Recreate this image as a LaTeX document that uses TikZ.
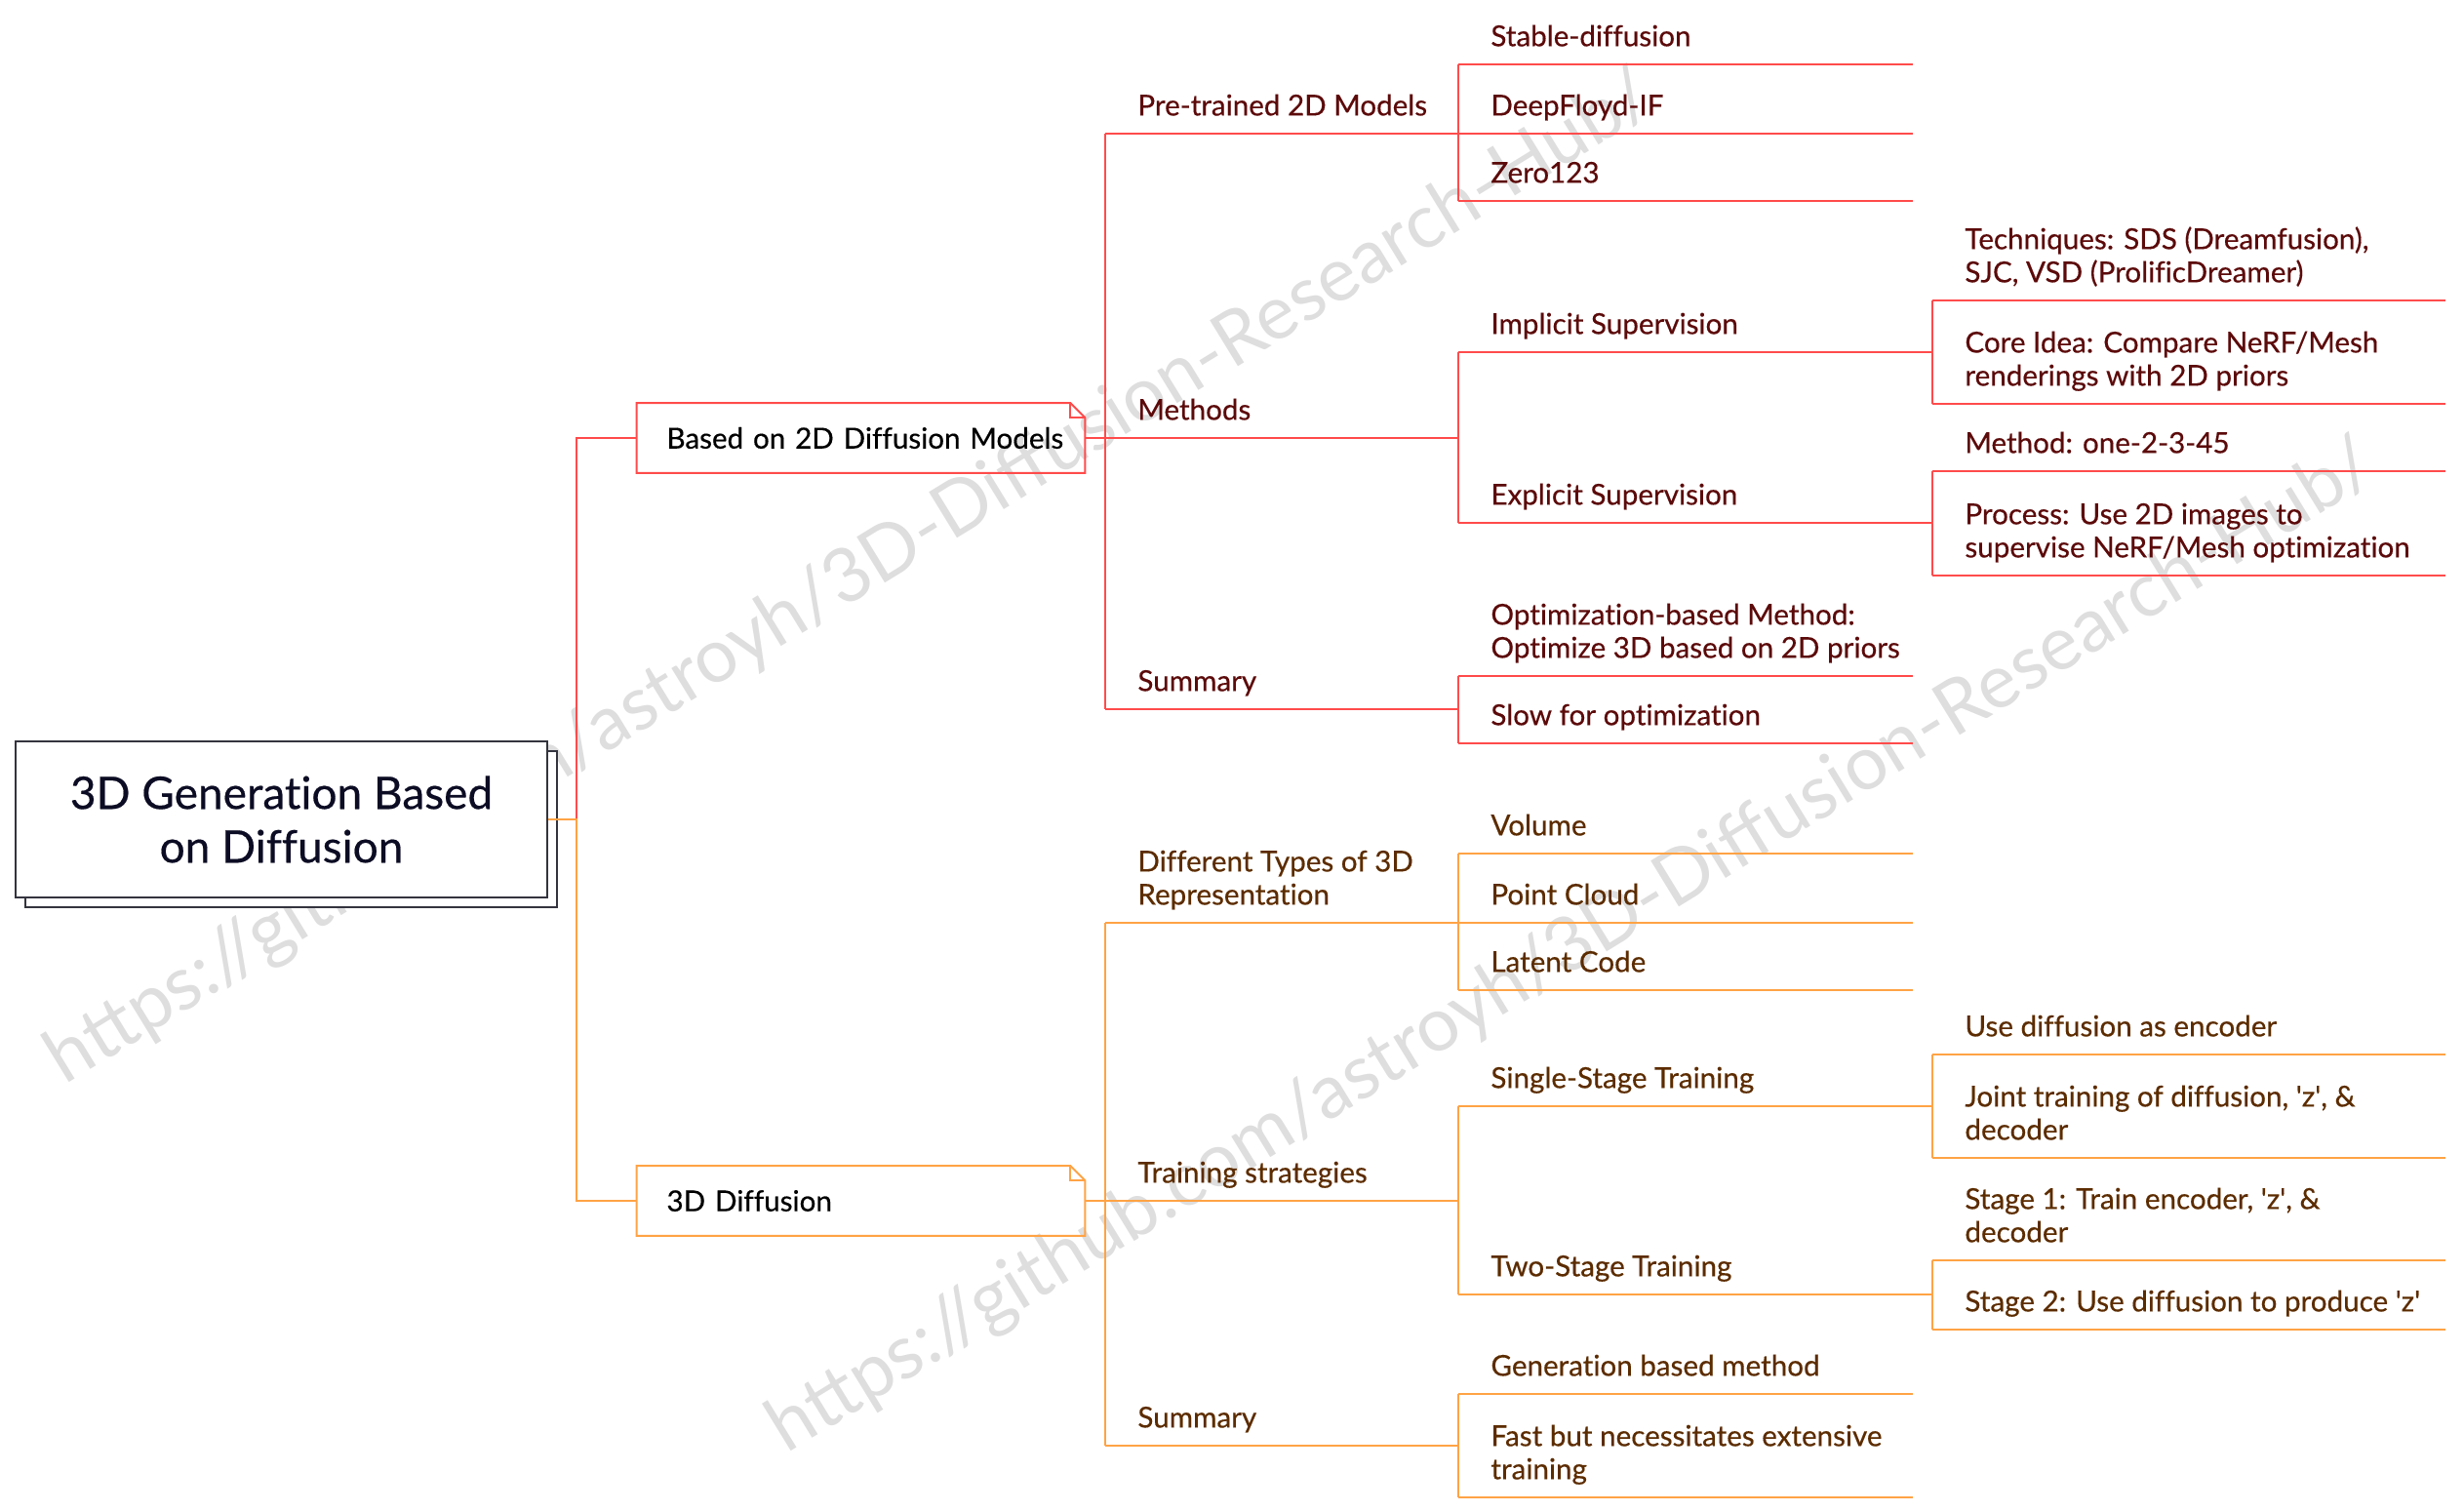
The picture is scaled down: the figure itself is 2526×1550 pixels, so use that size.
\documentclass[tikz,border=0pt]{standalone}
\usepackage{fontspec}
\setmainfont{Lato}[Ligatures={TeX,NoCommon},FakeBold=0.4]
\newfontfamily\wmfont{Lato}
\usetikzlibrary{shadows}

\definecolor{redline}{HTML}{FF4B4B}
\definecolor{oraline}{HTML}{FFA345}
\definecolor{redtext}{HTML}{5C0A0A}
\definecolor{oratext}{HTML}{5C2C00}
\definecolor{rootline}{HTML}{34343F}
\definecolor{roottext}{HTML}{0C0C24}

\newcommand{\tpfont}{\fontsize{14.8}{17}\selectfont}
\newcommand{\q}{\textquotesingle}
% box with a folded top right corner
\newcommand{\dogbox}[2]{%
  \draw[#2] (#1.south west) -- (#1.north west) -- ([xshift=-7.5pt]#1.north east)
    -- ([yshift=-7.5pt]#1.north east) -- (#1.south east) -- cycle;
  \draw[#2] ([xshift=-7.5pt]#1.north east) |- ([yshift=-7.5pt]#1.north east);}

\tikzset{
  tp/.style={anchor=south west, align=left, inner xsep=16.5pt, inner ysep=4pt,
    font=\tpfont, execute at end node=\strut},
  redt/.style={tp, text=redtext},
  orat/.style={tp, text=oratext},
  redl/.style={draw=redline, line width=1pt},
  oral/.style={draw=oraline, line width=1pt},
  mainbox/.style={minimum width=229.5pt, minimum height=35.5pt, text width=199pt,
    inner xsep=15.25pt, align=left, font=\tpfont, text=black},
  wmark/.style={rotate=31.5, text=black!13, font=\wmfont\fontsize{38.5}{42}\selectfont}
}

\begin{document}
\begin{tikzpicture}[x=0.5pt,y=-0.5pt]
      \useasboundingbox (0,0) rectangle (2526,1550);
      \pgfmathsetmacro{\ca}{1133}
      \pgfmathsetmacro{\cb}{1495}
      \pgfmathsetmacro{\cc}{1981}
      \coordinate (xa) at (\ca,0);
      \coordinate (xb) at (\cb,0);
      \coordinate (xc) at (\cc,0);
      \coordinate (eb) at (1961,0);
      \coordinate (ec) at (2507,0);

      % watermark
      \node[wmark] (wmA) at (872,594) {https://github.com/astroyh/3D-Diffusion-Research-Hub/};
      \node[wmark] (wmB) at (1612,972) {https://github.com/astroyh/3D-Diffusion-Research-Hub/};

      % root
      \node[draw=rootline, fill=white, line width=1pt, minimum width=272.5pt, minimum height=80pt,
        align=center, text=roottext, font=\fontsize{23}{27.5}\selectfont,
        copy shadow={shadow xshift=5pt, shadow yshift=-5pt}]
        (root) at (288.5,840) {3D Generation Based\\on Diffusion};
      \coordinate (trunk) at (591,840);

      \node[mainbox] (b2d) at (882.5,449) {\mbox{Based on 2D Diffusion Models}};
      \node[mainbox] (b3d) at (882.5,1231) {3D Diffusion};
      \dogbox{b2d}{redl}
      \dogbox{b3d}{oral}
      \draw[redl] (b2d.west) -| (trunk);
      \draw[oral] (root.east) -- (trunk) |- (b3d.west);

      % 2D branch
      \node[redt] (pre) at (\ca,137) {Pre-trained 2D Models};
      \node[redt] (meth) at (\ca,449) {Methods};
      \node[redt] (sumA) at (\ca,727) {Summary};
      \node[redt] (sd) at (\cb,66) {Stable-diffusion};
      \node[redt] (dfif) at (\cb,137) {DeepFloyd-IF};
      \node[redt] (zero) at (\cb,206) {Zero123};
      \node[redt] (impl) at (\cb,361) {Implicit Supervision};
      \node[redt] (expl) at (\cb,536) {Explicit Supervision};
      \node[redt] (tech) at (\cc,308) {Techniques: SDS (Dreamfusion),\\SJC, VSD (ProlificDreamer)};
      \node[redt] (core) at (\cc,414) {Core Idea: Compare NeRF/Mesh\\renderings with 2D priors};
      \node[redt] (one) at (\cc,483) {Method: one-2-3-45};
      \node[redt] (proc) at (\cc,590) {Process: Use 2D images to\\supervise NeRF/Mesh optimization};
      \node[redt] (optm) at (\cb,693) {Optimization-based Method:\\Optimize 3D based on 2D priors};
      \node[redt] (slow) at (\cb,762) {Slow for optimization};

      \draw[redl] (b2d.east) -- (meth.south west);
      \draw[redl] (pre.south west) -- (sumA.south west);
      \foreach \n in {pre,meth,sumA}
        \draw[redl] (\n.south west) -- (\n.south west -| xb);
      \foreach \n in {impl,expl}
        \draw[redl] (\n.south west) -- (\n.south west -| xc);
      \foreach \n in {sd,dfif,zero,optm,slow}
        \draw[redl] (\n.south west) -- (\n.south west -| eb);
      \foreach \n in {tech,core,one,proc}
        \draw[redl] (\n.south west) -- (\n.south west -| ec);
      \draw[redl] (sd.south west) -- (zero.south west);
      \draw[redl] (impl.south west) -- (expl.south west);
      \draw[redl] (tech.south west) -- (core.south west);
      \draw[redl] (one.south west) -- (proc.south west);
      \draw[redl] (optm.south west) -- (slow.south west);

      % 3D branch
      \node[orat] (types) at (\ca,946) {Different Types of 3D\\Representation};
      \node[orat] (strat) at (\ca,1231) {Training strategies};
      \node[orat] (sumB) at (\ca,1482) {Summary};
      \node[orat] (vol) at (\cb,875) {Volume};
      \node[orat] (pcl) at (\cb,946) {Point Cloud};
      \node[orat] (lat) at (\cb,1015) {Latent Code};
      \node[orat] (single) at (\cb,1134) {Single-Stage Training};
      \node[orat] (two) at (\cb,1327) {Two-Stage Training};
      \node[orat] (enc) at (\cc,1081) {Use diffusion as encoder};
      \node[orat] (joint) at (\cc,1187) {Joint training of diffusion, \q z\q, \&\\decoder};
      \node[orat] (stA) at (\cc,1292) {Stage 1: Train encoder, \q z\q, \&\\decoder};
      \node[orat] (stB) at (\cc,1363) {Stage 2: Use diffusion to produce \q z\q};
      \node[orat] (gen) at (\cb,1429) {Generation based method};
      \node[orat] (fast) at (\cb,1535) {Fast but necessitates extensive\\training};

      \draw[oral] (b3d.east) -- (strat.south west);
      \draw[oral] (types.south west) -- (sumB.south west);
      \foreach \n in {types,strat,sumB}
        \draw[oral] (\n.south west) -- (\n.south west -| xb);
      \foreach \n in {single,two}
        \draw[oral] (\n.south west) -- (\n.south west -| xc);
      \foreach \n in {vol,pcl,lat,gen,fast}
        \draw[oral] (\n.south west) -- (\n.south west -| eb);
      \foreach \n in {enc,joint,stA,stB}
        \draw[oral] (\n.south west) -- (\n.south west -| ec);
      \draw[oral] (vol.south west) -- (lat.south west);
      \draw[oral] (single.south west) -- (two.south west);
      \draw[oral] (enc.south west) -- (joint.south west);
      \draw[oral] (stA.south west) -- (stB.south west);
      \draw[oral] (gen.south west) -- (fast.south west);
\end{tikzpicture}
\end{document}
